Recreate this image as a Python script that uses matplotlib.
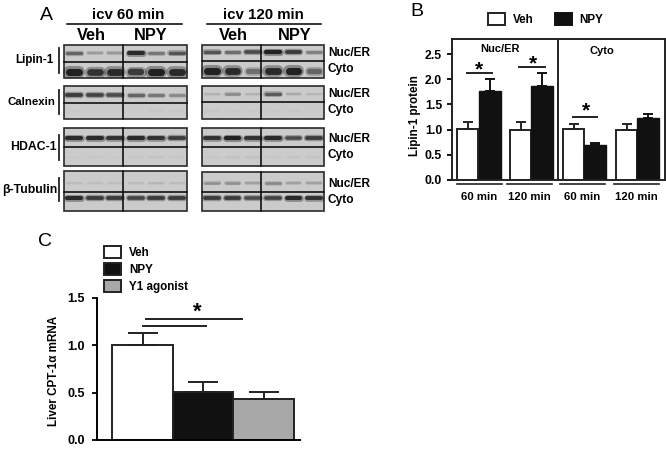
import matplotlib
matplotlib.use("Agg")
import matplotlib.pyplot as plt
from matplotlib.patches import Rectangle

plt.rcParams['font.family'] = ['Liberation Sans', 'DejaVu Sans']
plt.rcParams['font.weight'] = 'bold'
plt.rcParams['axes.labelweight'] = 'bold'

W, H = 666, 450

# panel B
b_labels = ["60 min", "120 min", "60 min", "120 min"]
b_veh = [1.02, 1.0, 1.01, 1.0]
b_veh_err = [0.14, 0.15, 0.11, 0.11]
b_npy = [1.76, 1.86, 0.69, 1.24]
b_npy_err = [0.24, 0.26, 0.04, 0.07]

# panel C
c_names = ["Veh", "NPY", "Y1 agonist"]
c_vals = [1.0, 0.51, 0.43]
c_errs = [0.13, 0.10, 0.08]
c_cols = ["white", "#111111", "#a8a8a8"]

# blots: band darkness per lane, lanes are Veh x3 then NPY x3
blot_names = ["Lipin-1", "Calnexin", "HDAC-1", "β-Tubulin"]
left_nuc = [[0.60, 0.28, 0.30, 0.95, 0.50, 0.70],
            [0.85, 0.80, 0.75, 0.60, 0.50, 0.40],
            [0.95, 0.95, 0.90, 0.95, 0.90, 0.85],
            [0.10, 0.08, 0.08, 0.10, 0.12, 0.10]]
left_cyt = [[1.0, 0.90, 0.95, 0.85, 1.0, 0.95],
            [0.02, 0.01, 0.01, 0.01, 0.03, 0.03],
            [0.02, 0.03, 0.02, 0.03, 0.04, 0.03],
            [0.95, 0.85, 0.85, 0.80, 0.85, 0.85]]
right_nuc = [[0.70, 0.55, 0.75, 1.0, 0.85, 0.45],
             [0.15, 0.38, 0.15, 0.65, 0.20, 0.12],
             [0.90, 1.0, 0.90, 0.95, 0.75, 0.85],
             [0.35, 0.35, 0.25, 0.40, 0.25, 0.25]]
right_cyt = [[1.0, 0.95, 0.55, 0.95, 1.0, 0.60],
             [0.03, 0.02, 0.02, 0.02, 0.03, 0.01],
             [0.03, 0.06, 0.06, 0.03, 0.04, 0.04],
             [0.85, 0.85, 0.75, 0.80, 0.95, 0.90]]
nuc_frac = [0.45, 0.5, 0.5, 0.55]
cyt_frac = [0.6, 0.5, 0.5, 0.32]
cyt_thick = [1.7, 1, 1, 1]

fig = plt.figure(figsize=(W / 100, H / 100), dpi=100)


def axes_px(x0, y0, x1, y1):
    # pixel box, y measured from the top of the image
    return fig.add_axes([x0 / W, 1 - y1 / H, (x1 - x0) / W, (y1 - y0) / H])


bg = axes_px(0, 0, W, H)
bg.set_xlim(0, W)
bg.set_ylim(H, 0)
bg.axis("off")


def band(cx, y, half, val, thick):
    # soft edge: wide pale stroke under a narrow dark one
    g = 0.80 - 0.74 * val
    lw = (1.2 + 1.8 * val) * thick
    half = half - (thick - 1) * 3
    bg.plot([cx - half, cx + half], [y, y], color=str(g), lw=lw * 1.7, alpha=0.35,
            solid_capstyle="round", zorder=3)
    bg.plot([cx - half, cx + half], [y, y], color=str(g), lw=lw, alpha=0.85,
            solid_capstyle="round", zorder=3)


def draw_blot(x0, x1, y0, ymid, y1, k, nuc, cyt):
    xm = x0 + (x1 - x0) * 0.48
    bg.add_patch(Rectangle((x0, y0), x1 - x0, y1 - y0, fc="#cbcbcb", ec="#2a2a2a", lw=1.2, zorder=2))
    lane = (x1 - x0) / 6
    for i in range(6):
        cx = x0 + lane * (i + 0.5)
        band(cx, y0 + (ymid - y0) * nuc_frac[k], lane * 0.34, nuc[i], 1)
        band(cx, ymid + (y1 - ymid) * cyt_frac[k], lane * 0.34, cyt[i], cyt_thick[k])
    bg.plot([x0, x1], [ymid, ymid], color="#111111", lw=1.2, zorder=4)
    bg.plot([xm, xm], [y0, y1], color="#111111", lw=1.2, zorder=4)


left_y = [(45, 62, 78), (86, 103, 119), (128, 147, 166), (171, 192, 211)]
right_y = [(45, 61, 78), (86, 102, 119), (128, 147, 166), (172, 192, 211)]
label_y = [(48, 73), (90, 114), (135, 160), (178, 201)]
name_x = [54, 55, 57, 57]
name_fs = [8.4, 8.2, 8.8, 8.8]
for i, name in enumerate(blot_names):
    y0, ym, y1 = left_y[i]
    draw_blot(64, 187, y0, ym, y1, i, left_nuc[i], left_cyt[i])
    y0, ym, y1 = right_y[i]
    draw_blot(202, 324, y0, ym, y1, i, right_nuc[i], right_cyt[i])
    bg.plot([59, 59], label_y[i], color="#222222", lw=1.3)
    bg.text(name_x[i], (label_y[i][0] + label_y[i][1]) / 2, name, ha="right", va="center", fontsize=name_fs[i])
    bg.text(328, ym - 8, "Nuc/ER", ha="left", va="center", fontsize=8.6)
    bg.text(328, ym + 8, "Cyto", ha="left", va="center", fontsize=8.6)

for x0, x1, xt, title in [(67, 182, 128, "icv 60 min"), (207, 321, 263, "icv 120 min")]:
    bg.plot([x0, x1], [24, 24], color="black", lw=1.1)
    bg.text(xt, 15, title, ha="center", va="center", fontsize=10.8)
for x, s in [(91, "Veh"), (151, "NPY"), (233, "Veh"), (295, "NPY")]:
    bg.text(x, 36, s, ha="center", va="center", fontsize=11.8)

bg.text(46, 15, "A", ha="center", va="center", fontsize=14, fontweight="normal")
bg.text(417, 11, "B", ha="center", va="center", fontsize=14, fontweight="normal")
bg.text(45, 242, "C", ha="center", va="center", fontsize=14, fontweight="normal")

# panel B bars
axb = axes_px(452, 39, 665, 180)
axb.patch.set_alpha(0)
axb.set_xlim(452, 665)
axb.set_ylim(0, 2.8)
veh_pos = [467.5, 520.5, 573.5, 626.5]
npy_pos = [489.5, 542, 595, 648]
axb.bar(veh_pos, b_veh, 21, color="white", edgecolor="#222222", linewidth=1.4,
        yerr=[[0] * 4, b_veh_err], error_kw=dict(ecolor="#222222", elinewidth=1.4, capsize=3.6, capthick=1.4))
axb.bar(npy_pos, b_npy, 22, color="#111111", edgecolor="#111111", linewidth=1.0,
        yerr=[[0] * 4, b_npy_err], error_kw=dict(ecolor="#111111", elinewidth=1.4, capsize=3.6, capthick=1.4))
for s in axb.spines.values():
    s.set_linewidth(1.4)
    s.set_color("#222222")
axb.axvline(558, color="#222222", lw=1.4)
axb.set_yticks([0, 0.5, 1.0, 1.5, 2.0, 2.5])
axb.set_yticklabels(["0.0", "0.5", "1.0", "1.5", "2.0", "2.5"], fontsize=8.8)
axb.tick_params(axis="y", length=3.6, width=1.3, pad=3.5)
axb.set_xticks([])
axb.set_ylabel("Lipin-1 protein", fontsize=8.4)
axb.yaxis.set_label_coords((421 - 452) / 213, 1 - (116 - 39) / 141)
axb.text(500, 2.6, "Nuc/ER", ha="center", va="center", fontsize=8)
axb.text(602, 2.57, "Cyto", ha="center", va="center", fontsize=8)
# significance bars in data coordinates
for xa, xb, y, xs, ys in [(467, 492, 2.12, 479, 2.18), (519, 545, 2.24, 533, 2.3), (573, 597, 1.25, 586, 1.37)]:
    axb.plot([xa, xb], [y, y], color="#222222", lw=1.4)
    axb.text(xs, ys, "*", ha="center", va="center", fontsize=15)

for (x0, x1), s in zip([(457, 502), (507, 552), (560, 605), (614, 659)], b_labels):
    bg.plot([x0, x1], [184, 184], color="#222222", lw=1.2)
    bg.text((x0 + x1) / 2, 197, s, ha="center", va="center", fontsize=8.2)

bg.add_patch(Rectangle((488, 13), 17, 12, fc="white", ec="#222222", lw=1.4))
bg.text(513, 20, "Veh", ha="left", va="center", fontsize=8.4)
bg.add_patch(Rectangle((555, 13), 17, 12, fc="#111111", ec="#111111", lw=1.4))
bg.text(579, 20, "NPY", ha="left", va="center", fontsize=8.4)

# panel C bars
axc = axes_px(97, 298, 300, 440)
axc.patch.set_alpha(0)
axc.set_xlim(97, 300)
axc.set_ylim(0, 1.5)
c_pos = [142.5, 203, 263.5]
axc.bar(c_pos, c_vals, 60.5, color=c_cols, edgecolor="#222222", linewidth=1.4,
        yerr=[[0] * 3, c_errs], error_kw=dict(ecolor="#222222", elinewidth=1.4, capsize=11, capthick=1.4))
axc.spines["top"].set_visible(False)
axc.spines["right"].set_visible(False)
axc.spines["left"].set_linewidth(1.4)
axc.spines["bottom"].set_linewidth(1.4)
axc.set_xticks([])
axc.set_yticks([0, 0.5, 1.0, 1.5])
axc.set_yticklabels(["0.0", "0.5", "1.0", "1.5"], fontsize=9)
axc.tick_params(axis="y", length=3.6, width=1.3, pad=5)
axc.set_ylabel("Liver CPT-1\u03b1 mRNA", fontsize=8.4)
axc.yaxis.set_label_coords((60 - 97) / 203, 1 - (371 - 298) / 142)
axc.plot([143, 206], [1.204, 1.204], color="#222222", lw=1.4)
axc.plot([146, 242], [1.278, 1.278], color="#222222", lw=1.4)
axc.text(197, 1.35, "*", ha="center", va="center", fontsize=16)

for y, name, col in zip([252, 269, 286], c_names, c_cols):
    bg.add_patch(Rectangle((104, y - 6), 17, 12, fc=col, ec="#222222", lw=1.4))
    bg.text(129, y + 1, name, ha="left", va="center", fontsize=8.4)

fig.savefig("out.png", dpi=100)
